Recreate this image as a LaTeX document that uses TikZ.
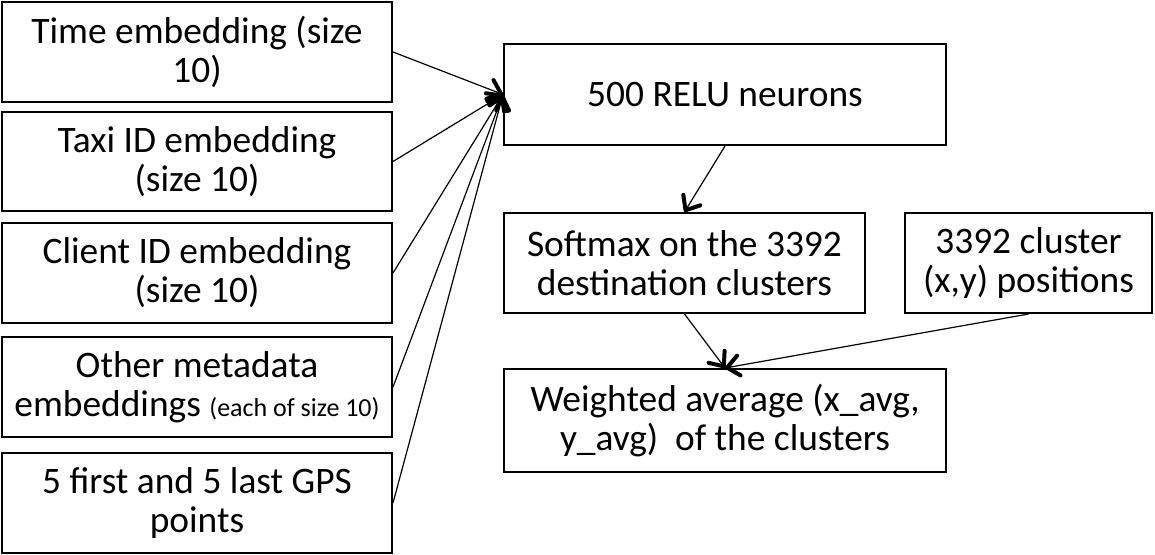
\documentclass[tikz,border=0pt]{standalone}
\usepackage{fontspec}
\setmainfont{Carlito}
\usetikzlibrary{arrows.meta}

\tikzset{
  box/.style={draw=black, line width=1pt, fill=white, inner sep=0pt, align=center,
    font=\fontsize{18.7}{19.5}\selectfont},
  feed/.style={draw=black, line width=0.6pt,
    -{Straight Barb[length=6pt,width=10pt,line width=2pt,round]}},
}

\begin{document}
\begin{tikzpicture}[x=0.5pt,y=-0.5pt]
  \useasboundingbox (0,0) rectangle (1155,555);

  % input features
  \node[box, minimum width=195pt, minimum height=50pt] (time) at (197,52)
    {Time embedding (size\\10)};
  \node[box, minimum width=195pt, minimum height=49.5pt] (taxi) at (197,161.5)
    {Taxi ID embedding\\(size 10)};
  \node[box, minimum width=195pt, minimum height=50pt] (client) at (197,273)
    {Client ID embedding\\(size 10)};
  \node[box, minimum width=195pt, minimum height=50pt] (meta) at (197,387)
    {Other metadata\\embeddings {\fontsize{13}{14}\selectfont (each of size 10)}};
  \node[box, minimum width=195pt, minimum height=50pt] (gps) at (197,503)
    {5 first and 5 last GPS\\points};

  % network
  \node[box, minimum width=221pt, minimum height=50.5pt] (relu) at (725,94.5)
    {500 RELU neurons};
  \node[box, minimum width=180.5pt, minimum height=50pt] (softmax) at (684.5,263)
    {Softmax on the 3392\\destination clusters};
  \node[box, minimum width=123.5pt, minimum height=50pt] (centers) at (1028.5,263)
    {3392 cluster\\(x,y) positions};
  \node[box, minimum width=221pt, minimum height=51.5pt] (avg) at (725,420.5)
    {Weighted average (x\_avg,\\y\_avg)\ \ of the clusters};

  % connections
  \foreach \src in {time,taxi,client,meta,gps}
    \draw[feed] (\src.east) -- (relu.west);
  \draw[feed] (relu.south) -- (softmax.north);
  \draw[feed] (softmax.south) -- (avg.north);
  \draw[feed] (centers.south) -- (avg.north);
\end{tikzpicture}
\end{document}
